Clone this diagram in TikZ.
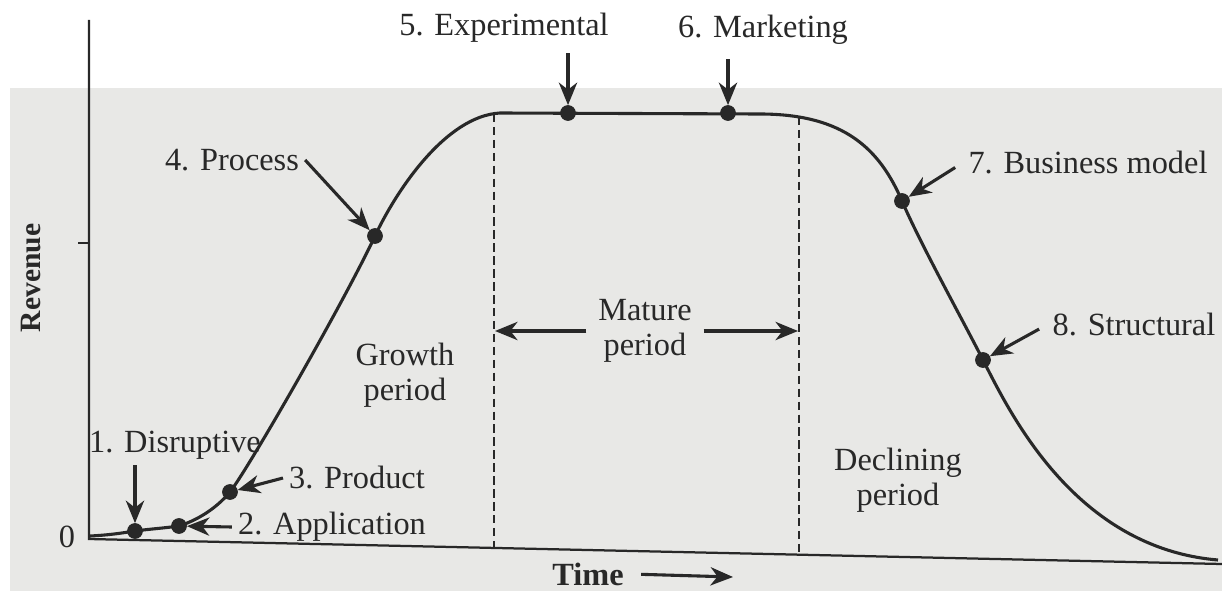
\documentclass[tikz,border=0pt]{standalone}
\usepackage{fontspec}
\setmainfont{Liberation Serif}
\usepackage{tikz}
\usetikzlibrary{arrows.meta}
\definecolor{ink}{RGB}{40, 40, 40}
\definecolor{paper}{RGB}{232, 232, 230}

\tikzset{
  lbl/.style={text=ink, inner sep=2pt, font=\fontsize{11.5}{12.5}\selectfont},
  dot/.style={circle, fill=ink, draw=ink, inner sep=0pt, minimum size=5.2pt},
  arr/.style={draw=ink, line width=1.1pt, -{Stealth[length=8pt, width=6.5pt, inset=2.5pt]}},
  axis/.style={draw=ink, line width=0.8pt},
  divider/.style={draw=ink, line width=0.5pt, dash pattern=on 3pt off 1.6pt},
}

\begin{document}
\begin{tikzpicture}[x=0.0125cm, y=-0.0125cm]
  \useasboundingbox (0,0) rectangle (1222,591);
  % printed page
  \fill[white] (0,0) rectangle (1222,591);
  \fill[paper] (10,88) rectangle (1222,591);

  % axes
  \draw[axis] (89,20) -- (89,539) -- (1222,564);
  \draw[axis, line width=0.5pt] (78,243) -- (89,243);
  \node[lbl] (zero) at (67,537) {0};
  \node[lbl, rotate=90, font=\fontsize{10.5}{12}\selectfont\bfseries] (rev) at (31,278) {Revenue};

  % period boundaries
  \draw[divider] (494,114) -- (494,547);
  \draw[divider] (799,117) -- (799,556);

  % revenue curve
  \draw[ink, line width=1.1pt]
    (90,536) .. controls (110,535) and (122,533) .. (135,531)
             .. controls (150,529) and (165,528) .. (179,526)
             .. controls (195,521) and (215,510) .. (230,492)
             .. controls (250,466) and (345,300) .. (375,236)
             .. controls (395,193) and (445,116) .. (500,113)
             -- (760,114)
             .. controls (845,114) and (880,150) .. (902,201)
             .. controls (920,243) and (960,315) .. (983,360)
             .. controls (1010,413) and (1075,548) .. (1218,560);

  % innovation points on the curve
  \foreach \n/\x/\y in {1/135/531, 2/179/526, 3/230/492, 4/375/236,
                        5/568/113, 6/728/113, 7/902/201, 8/983/360}
    \node[dot] (p\n) at (\x,\y) {};

  % labels
  \node[lbl] (l1) at (175,445) {1. Disruptive};
  \node[lbl] (l2) at (332,527) {2. Application};
  \node[lbl] (l3) at (357,478) {3. Product};
  \node[lbl] (l4) at (232,160) {4. Process};
  \node[lbl] (l5) at (504,28) {5. Experimental};
  \node[lbl] (l6) at (763,30) {6. Marketing};
  \node[lbl] (l7) at (1088,163) {7. Business model};
  \node[lbl] (l8) at (1134,325) {8. Structural};

  \draw[arr] (l1.south -| p1) -- (p1);
  \draw[arr] (l2.west) -- (p2);
  \draw[arr] (l3.west) -- (p3);
  \draw[arr] (l4.east) -- (p4);
  \draw[arr, shorten <=1.5pt] (l5.south -| p5) -- (p5);
  \draw[arr, shorten <=3pt] (l6.south -| p6) -- (p6);
  \draw[arr, shorten <=3pt] (l7.west) -- (p7);
  \draw[arr, shorten <=3pt] (l8.west) -- (p8);

  % periods
  \node[lbl, align=center] (growth) at (405,375) {Growth\\period};
  \node[lbl, align=center, inner xsep=4pt] (mature) at (645,331) {Mature\\period};
  \node[lbl, align=center] (decline) at (898,480) {Declining\\period};
  \coordinate (ml) at (495,331);
  \coordinate (mr) at (798,331);
  \draw[arr] (mature.west) -- (ml);
  \draw[arr] (mature.east) -- (mr);

  % time axis label
  \node[lbl, font=\fontsize{11.5}{12.5}\selectfont\bfseries] (time) at (588,574) {Time};
  \coordinate (tend) at (733,577);
  \draw[arr, shorten <=4pt] (time.east) -- (tend);
\end{tikzpicture}
\end{document}
